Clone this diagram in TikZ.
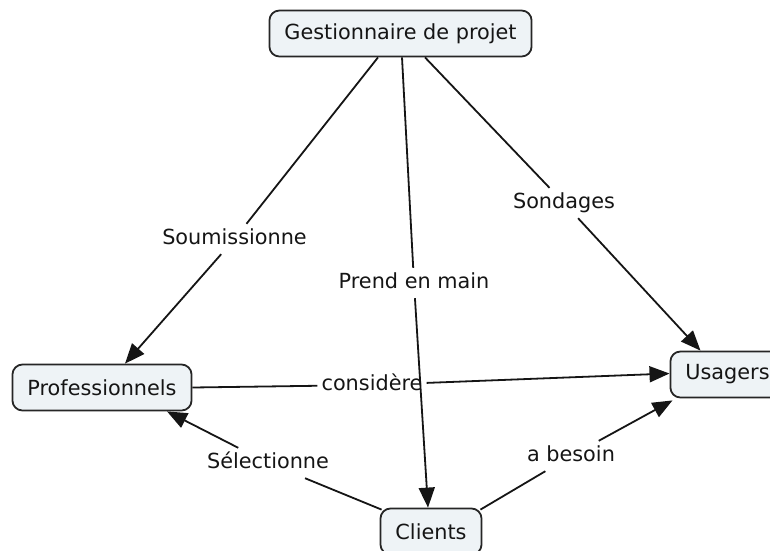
\documentclass[tikz,border=0pt]{standalone}
\usepackage{fontspec}
\setmainfont{DejaVu Sans}
\usetikzlibrary{arrows.meta,calc}
\definecolor{conceptfill}{HTML}{EEF3F6}
\definecolor{conceptline}{HTML}{262626}
\definecolor{ink}{HTML}{151515}
\tikzset{
  concept/.style={draw=conceptline, line width=1.8pt, fill=conceptfill,
    rounded corners=10pt, minimum height=46pt, inner xsep=15pt,
    font=\fontsize{20.8}{24}\selectfont, text=ink},
  phrase/.style={font=\fontsize{20.8}{24}\selectfont, text=ink,
    inner xsep=4pt, inner ysep=5pt, text height=15pt, text depth=5pt},
  link/.style={draw=ink, line width=1.8pt},
  arrowlink/.style={link, -{Triangle[length=20pt,width=16pt]}},
}
\begin{document}
\begin{tikzpicture}[x=1pt,y=-1pt]
\useasboundingbox (0,0) rectangle (770,550);

% concepts
\node[concept] (gp) at (400.5,33.5) {Gestionnaire de projet};
\node[concept] (prof) at (102,387.5) {Professionnels};
\node[concept] (us) at (727.5,374.5) {Usagers};
\node[concept] (cl) at (431,531.5) {Clients};

% linking phrases
\node[phrase] (soum) at (234.5,239) {Soumissionne};
\node[phrase] (prend) at (414,283) {Prend en main};
\node[phrase] (sond) at (564,203) {Sondages};
\node[phrase] (cons) at (372,385) {considère};
\node[phrase] (sel) at (268,463) {Sélectionne};
\node[phrase] (bes) at (571,456) {a besoin};

% Gestionnaire de projet -> Professionnels
\draw[link] ($(gp.south)+(-22.5,0)$) -- (soum);
\draw[arrowlink] (soum) -- ($(prof.north)+(23,0)$);
% Gestionnaire de projet -> Clients
\draw[link] ($(gp.south)+(1.5,0)$) -- (prend);
\draw[arrowlink] (prend) -- ($(cl.north)+(-3,0)$);
% Gestionnaire de projet -> Usagers
\draw[link] ($(gp.south)+(24.5,0)$) -- (sond);
\draw[arrowlink] (sond) -- ($(us.north)+(-27,0)$);
% Professionnels -> Usagers
\draw[link] (prof.east) -- (cons);
\draw[arrowlink] (cons) -- ($(us.west)+(0,-1)$);
% Clients -> Professionnels
\draw[link] ($(cl.north west)+(2,2)$) -- (sel);
\draw[arrowlink] (sel) -- ($(prof.south)+(65,0)$);
% Clients -> Usagers
\draw[link] ($(cl.north east)+(-2,2)$) -- (bes);
\draw[arrowlink] (bes) -- ($(us.south west)+(3,2)$);
\end{tikzpicture}
\end{document}
